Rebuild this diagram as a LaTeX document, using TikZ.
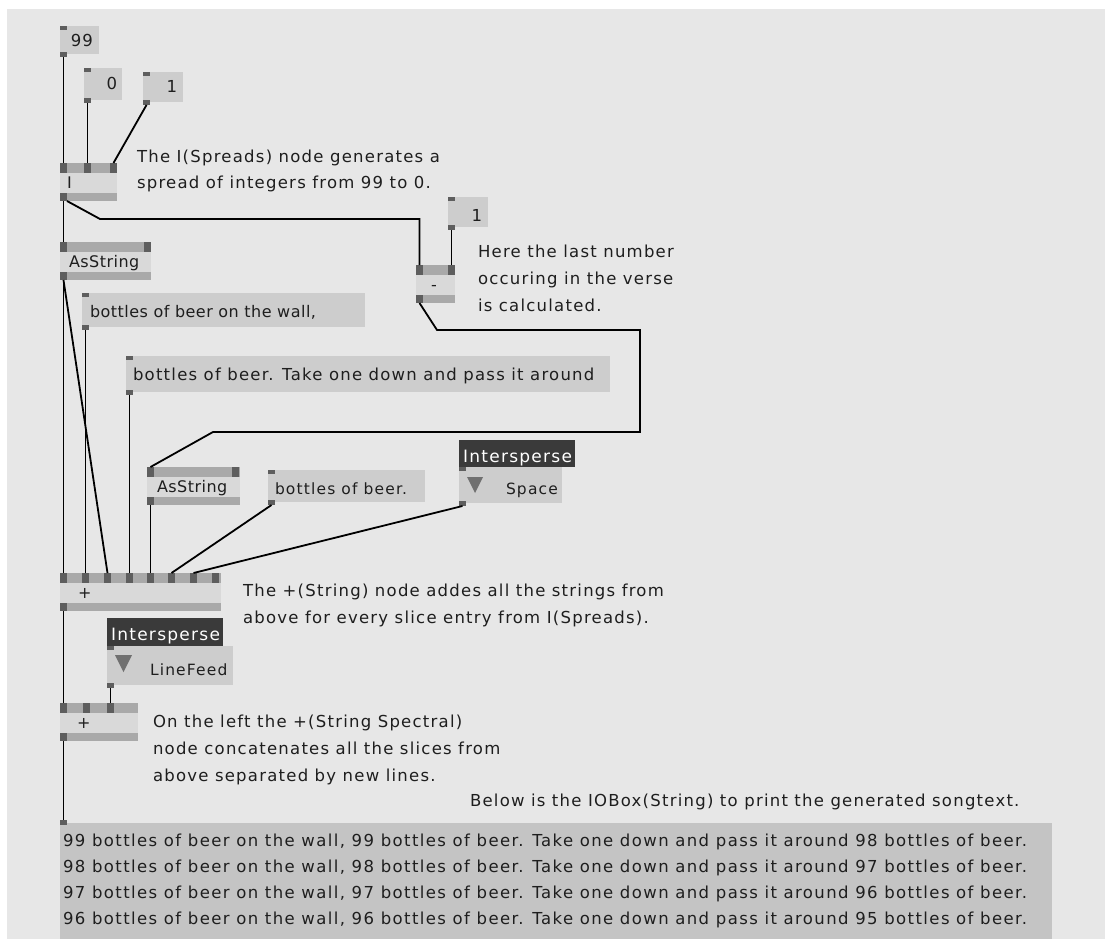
\documentclass[tikz,border=0pt]{standalone}
\usepackage{fontspec}
\newfontfamily\uifont[LetterSpace=7.5]{DejaVu Sans}
\newfontfamily\uifontw[LetterSpace=8.5]{DejaVu Sans}
\newfontfamily\uifontn[LetterSpace=3]{DejaVu Sans}
\definecolor{bgc}{HTML}{E7E7E7}
\definecolor{ioc}{HTML}{CDCDCD}
\definecolor{outc}{HTML}{C4C4C4}
\definecolor{barc}{HTML}{A9A9A9}
\definecolor{bodyc}{HTML}{D9D9D9}
\definecolor{portc}{HTML}{5E5E5E}
\definecolor{headc}{HTML}{3A3A3A}
\definecolor{tric}{HTML}{707070}
\definecolor{txtc}{HTML}{1E1E1E}

\tikzset{
  every node/.style={inner sep=0pt, outer sep=0pt},
  port/.style={fill=portc, minimum width=7pt, anchor=north west},
  iobox/.style={fill=ioc, anchor=north west},
  headbox/.style={fill=headc, anchor=north west},
  txt/.style={anchor=base west, font=\uifont\fontsize{16.5}{20}\selectfont, text=txtc},
  smtxt/.style={txt, font=\uifontn\fontsize{16}{19}\selectfont},
  midtxt/.style={txt, font=\uifont\fontsize{15.5}{19}\selectfont},
  headtxt/.style={txt, font=\uifont\fontsize{17}{20}\selectfont, text=white},
  outtxt/.style={txt, font=\uifontw\fontsize{16.5}{20}\selectfont},
  wire/.style={draw=black, line width=1.8pt},
}

% vvvv node: name, x, y, width, label offset, label
\newcommand\vvbox[6]{%
  \fill[barc] (#2,#3) rectangle ++(#4,38);
  \fill[bodyc] (#2,#3+10) rectangle ++(#4,20);
  \node[anchor=north west, minimum width=#4pt, minimum height=38pt] (#1) at (#2,#3) {};
  \node[smtxt] at (#2+#5,#3+25) {#6};
}
% pin: name, x, y, height
\newcommand\vport[4]{\node[port, minimum height=#4pt] (#1) at (#2,#3) {};}

\begin{document}
\begin{tikzpicture}[x=1pt,y=-1pt]
\useasboundingbox (0,0) rectangle (1105,939);
\fill[white] (0,0) rectangle (1105,939);
\fill[bgc] (7,9) rectangle (1105,939);

% ---- value boxes feeding I(Spreads)
\node[iobox, minimum width=39pt, minimum height=28pt] (n99) at (60,26) {};
\node[txt, anchor=base east] at (93,47) {99};
\vport{n99i}{60}{26}{4}
\vport{n99o}{60}{52}{5}

\node[iobox, minimum width=38pt, minimum height=32pt] (n0) at (84,68) {};
\node[txt, anchor=base east] at (117,90) {0};
\vport{n0i}{84}{68}{4}
\vport{n0o}{84}{98}{5}

\node[iobox, minimum width=40pt, minimum height=30pt] (n1a) at (143,72) {};
\node[txt, anchor=base east] at (177,93) {1};
\vport{n1ai}{143}{72}{4}
\vport{n1ao}{143}{100}{5}

% ---- I (Spreads)
\vvbox{nI}{60}{163}{57}{7}{I}
\vport{nIi1}{60}{163}{10}
\vport{nIi2}{84}{163}{10}
\vport{nIi3}{110}{163}{10}
\vport{nIo}{60}{193}{8}

\node[txt] at (137,162) {The I(Spreads) node generates a};
\node[txt] at (137,188) {spread of integers from 99 to 0.};

% ---- subtraction
\node[iobox, minimum width=40pt, minimum height=30pt] (n1b) at (448,197) {};
\node[txt, anchor=base east] at (482,221) {1};
\vport{n1bi}{448}{197}{4}
\vport{n1bo}{448}{225}{5}

\vvbox{nM}{416}{265}{39}{15}{-}
\vport{nMi1}{416}{265}{10}
\vport{nMi2}{448}{265}{10}
\vport{nMo}{416}{295}{8}

\node[txt] at (478,257) {Here the last number};
\node[txt] at (478,284) {occuring in the verse};
\node[txt] at (478,311) {is calculated.};

% ---- AsString of the spread
\vvbox{nAs1}{60}{242}{91}{9}{AsString}
\vport{nAs1i1}{60}{242}{10}
\vport{nAs1i2}{144}{242}{10}
\vport{nAs1o}{60}{272}{8}

% ---- string constants
\node[iobox, minimum width=283pt, minimum height=34pt] (nBw) at (82,293) {};
\node[smtxt] at (90,317) {bottles of beer on the wall,};
\vport{nBwi}{82}{293}{4}
\vport{nBwo}{82}{325}{5}

\node[iobox, minimum width=484pt, minimum height=36pt] (nBt) at (126,356) {};
\node[txt] at (133,380) {bottles of beer. Take one down and pass it around};
\vport{nBti}{126}{356}{4}
\vport{nBto}{126}{390}{5}

\vvbox{nAs2}{147}{467}{93}{10}{AsString}
\vport{nAs2i1}{147}{467}{10}
\vport{nAs2i2}{232}{467}{10}
\vport{nAs2o}{147}{497}{8}

\node[iobox, minimum width=157pt, minimum height=32pt] (nBb) at (268,470) {};
\node[midtxt] at (275,494) {bottles of beer.};
\vport{nBbi}{268}{470}{4}
\vport{nBbo}{268}{500}{5}

% ---- Intersperse: Space
\node[headbox, minimum width=116pt, minimum height=27pt] (nSph) at (459,440) {};
\node[headtxt] at (463,462) {Intersperse};
\node[iobox, minimum width=103pt, minimum height=36pt] (nSp) at (459,467) {};
\fill[tric] (467,477) -- (483,477) -- (475,493) -- cycle;
\node[midtxt] at (506,494) {Space};
\vport{nSpi}{459}{467}{4}
\vport{nSpo}{459}{501}{5}

% ---- +(String)
\vvbox{nP1}{60}{573}{161}{18}{+}
\vport{nP1i1}{60}{573}{10}
\vport{nP1i2}{82}{573}{10}
\vport{nP1i3}{104}{573}{10}
\vport{nP1i4}{126}{573}{10}
\vport{nP1i5}{147}{573}{10}
\vport{nP1i6}{168}{573}{10}
\vport{nP1i7}{190}{573}{10}
\vport{nP1i8}{212}{573}{10}
\vport{nP1o}{60}{603}{8}

\node[txt] at (243,596) {The +(String) node addes all the strings from};
\node[txt] at (243,623) {above for every slice entry from I(Spreads).};

% ---- Intersperse: LineFeed
\node[headbox, minimum width=116pt, minimum height=28pt] (nLfh) at (107,618) {};
\node[headtxt] at (111,640) {Intersperse};
\node[iobox, minimum width=126pt, minimum height=39pt] (nLf) at (107,646) {};
\fill[tric] (115,655) -- (132,655) -- (123.5,672) -- cycle;
\node[midtxt] at (150,675) {LineFeed};
\vport{nLfi}{107}{646}{4}
\vport{nLfo}{107}{683}{5}

% ---- +(String Spectral)
\vvbox{nP2}{60}{703}{78}{17}{+}
\vport{nP2i1}{60}{703}{10}
\vport{nP2i2}{83}{703}{10}
\vport{nP2i3}{107}{703}{10}
\vport{nP2o}{60}{733}{8}

\node[txt] at (153,727) {On the left the +(String Spectral)};
\node[txt] at (153,754) {node concatenates all the slices from};
\node[txt] at (153,781) {above separated by new lines.};
\node[txt] at (470,806) {Below is the IOBox(String) to print the generated songtext.};

% ---- result box
\node[fill=outc, anchor=north west, minimum width=992pt, minimum height=120pt] (nOut) at (60,823) {};
\vport{nOuti}{60}{820}{5}
\node[outtxt] at (63,846) {99 bottles of beer on the wall, 99 bottles of beer. Take one down and pass it around 98 bottles of beer.};
\node[outtxt] at (63,872) {98 bottles of beer on the wall, 98 bottles of beer. Take one down and pass it around 97 bottles of beer.};
\node[outtxt] at (63,898) {97 bottles of beer on the wall, 97 bottles of beer. Take one down and pass it around 96 bottles of beer.};
\node[outtxt] at (63,924) {96 bottles of beer on the wall, 96 bottles of beer. Take one down and pass it around 95 bottles of beer.};

% ---- links
\draw[wire] (n99o.south) -- (nIi1.north);
\draw[wire] (n0o.south) -- (nIi2.north);
\draw[wire] (n1ao.south) -- (nIi3.north);
\draw[wire] (nIo.south) -- (nAs1i1.north);
\draw[wire] (nIo.south east) -- (100,219) -| (nMi1.north);
\draw[wire] (n1bo.south) -- (nMi2.north);
\draw[wire] (nMo.south) -- (437,330) -- (640,330) -- (640,432) -- (213,432) -- (nAs2i1.north);
\draw[wire] (nAs1o.south) -- (nP1i1.north);
\draw[wire] (nAs1o.south) -- (nP1i3.north);
\draw[wire] (nBwo.south) -- (nP1i2.north);
\draw[wire] (nBto.south) -- (nP1i4.north);
\draw[wire] (nAs2o.south) -- (nP1i5.north);
\draw[wire] (nBbo.south) -- (nP1i6.north);
\draw[wire] (nSpo.south) -- (nP1i7.north);
\draw[wire] (nP1o.south) -- (nP2i1.north);
\draw[wire] (nLfo.south) -- (nP2i3.north);
\draw[wire] (nP2o.south) -- (nOuti.north);
\end{tikzpicture}
\end{document}
